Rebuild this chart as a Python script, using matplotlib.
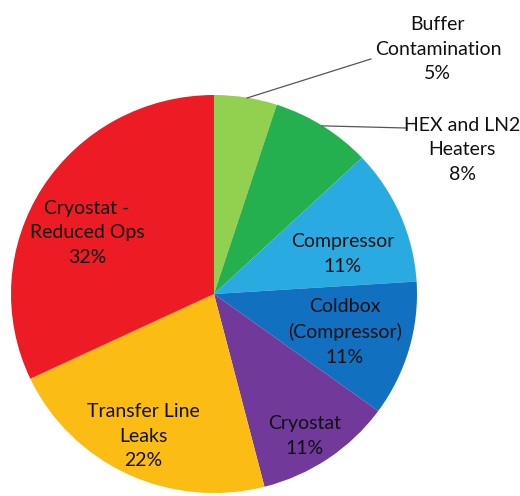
import matplotlib.pyplot as plt

labels = ['Buffer\nContamination', 'HEX and LN2\nHeaters', 'Compressor',
          'Coldbox\n(Compressor)', 'Cryostat', 'Transfer Line\nLeaks',
          'Cryostat -\nReduced Ops']
shares = [5, 8, 11, 11, 11, 22, 32]
colors = ['#92D050', '#24B04F', '#29ABE2', '#1170C0', '#70399A', '#FBBD13', '#ED1C24']

# label centres in pie units (radius = 1)
label_xy = [(1.103, 1.231), (1.222, 0.724), (0.635, 0.201), (0.645, -0.191),
            (0.448, -0.714), (-0.350, -0.714), (-0.626, 0.307)]
# leader lines for the two small outside slices: (start on rim, end at text)
leaders = {0: ((0.163, 0.985), (0.773, 1.181)),
           1: ((0.532, 0.845), (0.951, 0.834))}

plt.rcParams['font.family'] = ['Lato', 'DejaVu Sans']
FS = 14
LS = 1.55

fig = plt.figure(figsize=(5.2, 4.96), dpi=100, facecolor='white')
ax = fig.add_axes([11 / 520, 3 / 496, 406 / 520, 398 / 496])
wedges, _ = ax.pie(shares, colors=colors, startangle=90, counterclock=False,
                   radius=1.0, wedgeprops=dict(linewidth=0))
ax.set_aspect('auto')
ax.set_xlim(-1, 1)
ax.set_ylim(-1, 1)
ax.axis('off')

total = float(sum(shares))
for i, w in enumerate(wedges):
    txt = f'{labels[i]}\n{shares[i] / total * 100:.0f}%'
    if i in leaders:
        (sx, sy), (ex, ey) = leaders[i]
        ax.plot([sx, ex], [sy, ey], color='#555555', lw=0.9, clip_on=False)
    tx, ty = label_xy[i]
    ax.text(tx, ty, txt, ha='center', va='center', fontsize=FS,
            color='#111111', linespacing=LS, clip_on=False)

fig.savefig('out.png', dpi=100, facecolor='white')
